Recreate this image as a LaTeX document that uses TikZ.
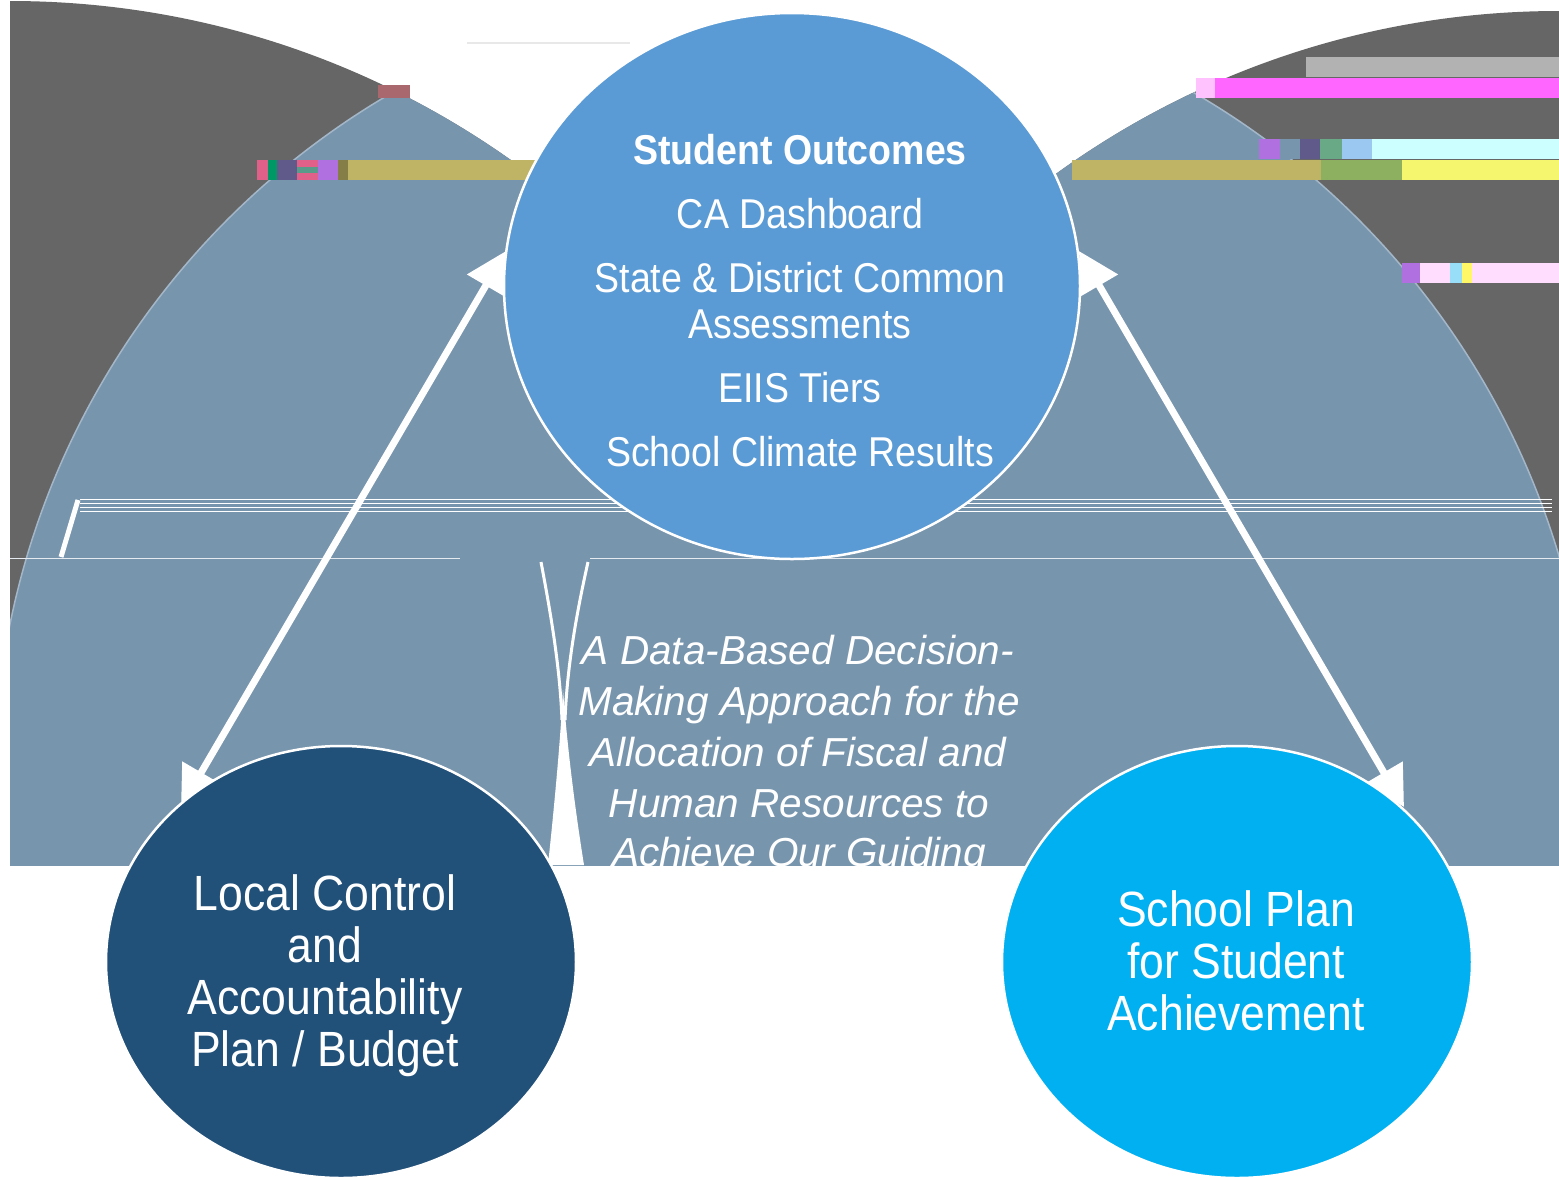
\documentclass[tikz,border=0pt]{standalone}
\usepackage{fontspec}
\setmainfont{Liberation Sans}
\newfontfamily\condf{Liberation Sans}[FakeStretch=0.9]
\usetikzlibrary{arrows.meta,shapes.geometric}
\definecolor{dgray}{HTML}{666666}
\definecolor{bgray}{HTML}{7895AE}
\definecolor{bgedge}{HTML}{A4B7C8}
\definecolor{topblue}{HTML}{5B9BD5}
\definecolor{navy}{HTML}{215079}
\definecolor{cyanc}{HTML}{00B0F0}
\definecolor{olive}{HTML}{BFB466}
\definecolor{greenish}{HTML}{8DB060}
\definecolor{yel}{HTML}{F5F56E}
\definecolor{mag}{HTML}{FF66FF}
\definecolor{lgray}{HTML}{B2B2B2}
\definecolor{lcyan}{HTML}{CCFFFF}
\definecolor{lblue}{HTML}{9BC8F0}
\definecolor{lpink}{HTML}{FFDDFF}
\definecolor{slate}{HTML}{5F5A8A}
\definecolor{rose}{HTML}{A8686E}
\definecolor{pinkr}{HTML}{E0608A}
\definecolor{purp}{HTML}{B070E0}
\definecolor{teal}{HTML}{5A9A8A}
\tikzset{
  circ/.style={ellipse, draw=white, line width=2.5pt, inner sep=0pt},
  tt/.style={text=white, font=\condf\fontsize{41.7}{50}\selectfont, anchor=base, inner sep=0pt},
  tb/.style={tt, font=\condf\fontsize{41.7}{50}\selectfont\bfseries},
  bt/.style={text=white, font=\condf\fontsize{49.5}{56}\selectfont, anchor=base, inner sep=0pt},
  it/.style={text=white, font=\fontsize{40.5}{48}\selectfont\itshape, anchor=base, inner sep=0pt},
  dbl/.style={draw=white, line width=7pt,
    {Triangle[length=40pt,width=42pt]}-{Triangle[length=40pt,width=42pt]}},
  wl/.style={draw=white, line width=1.4pt},
}
\begin{document}
\begin{tikzpicture}[x=1pt,y=-1pt]
\useasboundingbox (0,0) rectangle (1559,1176);
\fill[white] (0,0) rectangle (1559,1176);
% background layer, clipped
\begin{scope}
  \clip (10,0) rectangle (1559,865);
  \fill[dgray] (10,869) circle[radius=868];
  \fill[dgray] (1559,869) circle[radius=858];
  \begin{scope}
    \clip (10,869) circle[radius=868];
    \fill[bgray, draw=bgedge, line width=1.5pt] (793,784) circle[radius=799];
  \end{scope}
  \begin{scope}
    \clip (1559,869) circle[radius=858];
    \fill[bgray, draw=bgedge, line width=1.5pt] (793,784) circle[radius=799];
  \end{scope}
  % glitch bars, left
  \fill[rose] (378,85) rectangle (410,98);
  \fill[olive] (348,160) rectangle (560,180);
  \fill[pinkr] (257,160) rectangle (268,180);
  \fill[green!60!blue] (268,160) rectangle (277,180);
  \fill[slate] (277,160) rectangle (297,180);
  \fill[pinkr] (297,160) rectangle (318,167);
  \fill[teal] (297,167) rectangle (318,173);
  \fill[pinkr] (297,173) rectangle (318,180);
  \fill[purp] (318,160) rectangle (338,180);
  \fill[olive!70!black] (338,160) rectangle (348,180);
  % glitch bars, right
  \fill[lgray] (1306,57) rectangle (1559,77);
  \fill[mag] (1215,78) rectangle (1559,98);
  \fill[mag!40] (1196,78) rectangle (1215,98);
  \fill[purp] (1259,139) rectangle (1280,159);
  \fill[bgray] (1280,139) rectangle (1300,159);
  \fill[slate] (1300,139) rectangle (1320,159);
  \fill[purp!60!green] (1320,139) rectangle (1342,159);
  \fill[lblue] (1342,139) rectangle (1372,159);
  \fill[lcyan] (1372,139) rectangle (1559,159);
  \fill[olive] (1072,160) rectangle (1321,180);
  \fill[greenish] (1321,160) rectangle (1402,180);
  \fill[yel] (1402,160) rectangle (1559,180);
  \fill[purp] (1402,263) rectangle (1420,283);
  \fill[lpink] (1420,263) rectangle (1450,283);
  \fill[cyan!40] (1450,263) rectangle (1462,283);
  \fill[yellow!60] (1462,263) rectangle (1472,283);
  \fill[lpink] (1472,263) rectangle (1559,283);
  % white streaks
  \draw[wl] (80,499.5) -- (1552,499.5);
  \draw[wl] (80,503.5) -- (1552,503.5);
  \draw[wl] (80,507.5) -- (1552,507.5);
  \draw[wl] (80,511.5) -- (1552,511.5);
  \draw[white, line width=5pt] (78,500) -- (61,557);
  \draw[white!80!bgray, line width=1pt] (10,558) -- (460,558);
  \draw[white!80!bgray, line width=1pt] (590,558) -- (1559,558);
  \draw[white!85!dgray, line width=1.5pt] (467,43) -- (630,43);
  % hourglass artefact
  \draw[white, line width=3pt] (541,562) .. controls (552,620) and (560,670) .. (562,720);
  \draw[white, line width=3pt] (588,562) .. controls (575,620) and (567,670) .. (565,720);
  \fill[white] (548,865) .. controls (556,790) and (561,730) .. (563,690)
     .. controls (566,730) and (572,790) .. (584,865) -- cycle;
  % italic statement
  \node[it] (s1) at (798,664) {A Data-Based Decision-};
  \node[it] (s2) at (799,715) {Making Approach for the};
  \node[it] (s3) at (798,766) {Allocation of Fiscal and};
  \node[it] (s4) at (799,817) {Human Resources to};
  \node[it] (s5) at (799,866) {Achieve Our Guiding};
\end{scope}
% arrows
\coordinate (la1) at (506,251);
\coordinate (la2) at (181,807);
\coordinate (ra1) at (1079,251);
\coordinate (ra2) at (1404,807);
\draw[dbl] (la2) -- (la1);
\draw[dbl] (ra1) -- (ra2);
% circles
\node[circ, fill=topblue, minimum width=576pt, minimum height=546pt] (so) at (792,286) {};
\node[circ, fill=navy, minimum width=470pt, minimum height=432pt] (lcap) at (341,962) {};
\node[circ, fill=cyanc, minimum width=470pt, minimum height=432pt] (sp) at (1237,962) {};
% top texts
\node[tb] (t1) at (800,164) {Student Outcomes};
\node[tt] (t2) at (800,228) {CA Dashboard};
\node[tt] (t3) at (800,292) {State \& District Common};
\node[tt] (t4) at (800,338) {Assessments};
\node[tt] (t5) at (800,402) {EIIS Tiers};
\node[tt] (t6) at (800,466) {School Climate Results};
% bottom-left texts
\node[bt] (l1) at (325,910) {Local Control};
\node[bt] (l2) at (325,962) {and};
\node[bt] (l3) at (325,1014) {Accountability};
\node[bt] (l4) at (325,1066) {Plan / Budget};
% bottom-right texts
\node[bt] (r1) at (1236,926) {School Plan};
\node[bt] (r2) at (1236,978) {for Student};
\node[bt] (r3) at (1236,1030) {Achievement};
\end{tikzpicture}
\end{document}
